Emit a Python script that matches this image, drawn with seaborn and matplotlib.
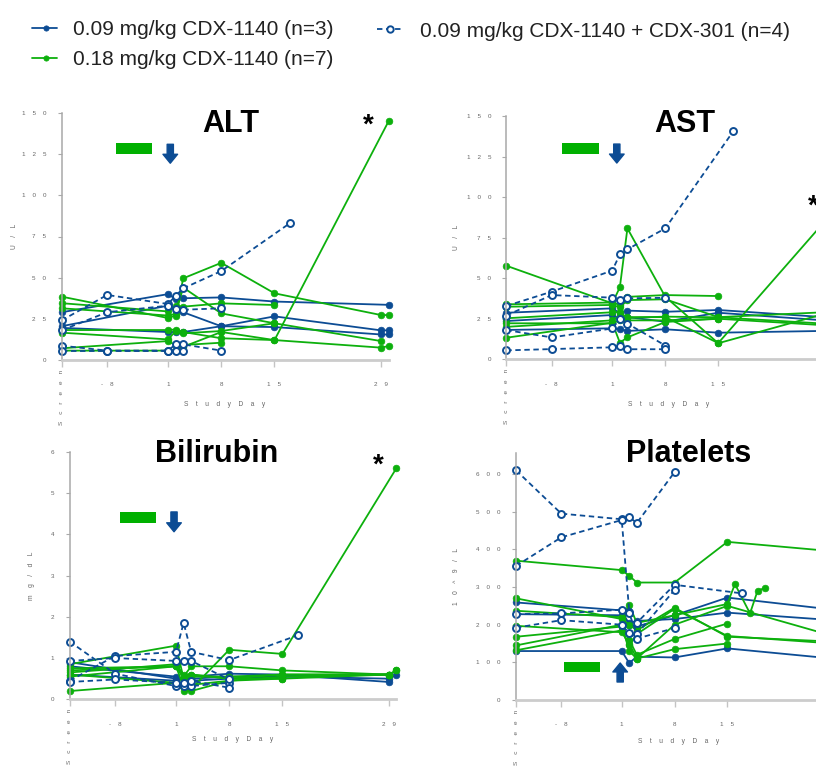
import numpy as np
import pandas as pd
import matplotlib
matplotlib.use("Agg")
import matplotlib.pyplot as plt
import matplotlib.transforms as mtransforms
from matplotlib.lines import Line2D
from matplotlib.patches import Rectangle
import seaborn as sns

N = np.nan

# ---------------- data ----------------
GROUPS = ["0.09 mg/kg CDX-1140 (n=3)",
          "0.18 mg/kg CDX-1140 (n=7)",
          "0.09 mg/kg CDX-1140 + CDX-301 (n=4)"]
PANEL_TITLES = ["ALT", "AST", "Bilirubin", "Platelets"]
Y_LABELS = ["U/L", "U/L", "mg/dL", "10^9/L"]
# study days of the visits (Screen drawn at -14, there is no day 0)
VISIT_DAYS = [-14, -8, 1, 2, 3, 8, 15, 16, 17, 18, 19, 20, 29, 30]
X_TICK_DAYS = [-14, -8, 1, 8, 15, 29]
X_TICK_LABELS = ["Screen", "-8", "1", "8", "15", "29"]
ALT_YTICKS = [0, 25, 50, 75, 100, 125, 150]
AST_YTICKS = [0, 25, 50, 75, 100, 125, 150]
BILI_YTICKS = [0, 1, 2, 3, 4, 5, 6]
PLT_YTICKS = [0, 100, 200, 300, 400, 500, 600]

#          Scr   -8    1     2     3     8     15    16  17    18   19   20   29    30
ALT_BLUE = [
    [29.0, N, 40.0, 37.0, 37.5, 38.0, 35.5, N, N, N, N, N, N, 33.5],
    [19.5, N, 17.0, 17.0, 17.0, 20.5, 26.5, N, N, N, N, N, 18.0, 18.0],
    [20.5, N, 33.0, 30.0, 29.0, 20.5, 20.0, N, N, N, N, N, 15.5, 15.5],
]
ALT_GREEN = [
    [38.5, N, 25.5, 27.0, 49.6, 59.0, 40.5, N, N, N, N, N, 27.3, 27.3],
    [34.5, N, 29.5, 32.8, 32.4, 34.4, 33.4, N, N, N, N, N, N, N],
    [31.4, N, 27.0, 28.0, 44.0, 28.3, 22.3, N, N, N, N, N, 11.5, N],
    [18.2, N, 18.2, 18.5, 17.0, 13.2, 12.1, N, N, N, N, N, 7.5, 8.5],
    [16.6, N, 12.5, 17.5, 16.2, 17.6, 22.3, N, N, N, N, N, N, N],
    [7.1, N, 11.5, 9.0, 9.1, 10.5, N, N, N, N, N, N, N, N],
    [5.7, N, 5.7, 6.0, 8.0, 17.0, 12.1, N, N, N, N, N, N, 145.0],
]
ALT_DASH = [
    [24.0, 39.5, 34.0, 39.0, 43.5, 54.0, N, N, 83.0, N, N, N, N, N],
    [18.0, 29.0, 33.0, 31.0, 30.5, 31.4, N, N, N, N, N, N, N, N],
    [8.7, 5.7, 5.7, 9.5, 9.5, 5.7, N, N, N, N, N, N, N, N],
    [5.7, 5.7, 5.7, 5.7, 5.7, N, N, N, N, N, N, N, N, N],
]

AST_BLUE = [
    [28.7, N, 31.4, 28.5, 30.0, 29.3, 30.4, N, N, N, N, N, 26.0, N],
    [23.6, N, 27.3, 25.0, 26.0, 23.2, 28.7, N, N, N, N, N, 24.0, N],
    [18.1, N, 19.1, 18.5, 17.5, 18.5, 16.4, N, N, N, N, N, 17.5, N],
]
AST_GREEN = [
    [57.7, N, 34.5, 44.4, 80.7, 38.6, 9.9, N, N, N, N, N, 28.0, N],
    [33.9, N, 35.0, 33.5, 38.5, 39.6, 39.0, N, N, N, N, N, N, N],
    [32.4, N, 33.5, 32.0, 36.5, 37.0, 26.0, N, N, N, N, N, 29.0, N],
    [25.3, N, 29.0, 29.0, 25.5, 26.3, 25.9, N, N, N, N, N, 22.0, N],
    [22.2, N, 22.2, 24.0, 24.0, 24.0, 25.0, N, N, N, N, N, 21.0, N],
    [13.3, N, 22.5, 10.3, 13.5, 23.0, 25.0, N, N, N, N, N, N, N],
    [20.0, N, 24.0, 27.0, 26.0, 26.0, 10.0, N, N, N, N, N, N, 90.0],
]
AST_DASH = [
    [32.9, 41.7, 54.7, 64.7, 67.8, 80.7, N, N, 140.7, N, N, N, N, N],
    [27.0, 39.6, 38.0, 36.6, 37.6, 37.9, N, N, N, N, N, N, N, N],
    [18.0, 13.5, 19.0, 25.0, 22.0, 8.5, N, N, N, N, N, N, N, N],
    [5.5, 6.3, 7.4, 8.2, 6.2, 6.2, N, N, N, N, N, N, N, N],
]

BILI_BLUE = [
    [0.90, N, 0.50, 0.50, 0.55, 0.62, 0.60, N, N, N, N, N, 0.42, N],
    [0.80, N, 0.55, 0.45, 0.50, 0.55, 0.55, N, N, N, N, N, 0.50, 0.60],
    [0.60, N, 0.45, 0.50, 0.45, 0.50, 0.55, N, N, N, N, N, 0.60, N],
]
BILI_GREEN = [
    [0.85, N, 1.30, 0.50, 0.60, 0.50, 0.50, N, N, N, N, N, 0.60, 0.70],
    [0.20, N, 0.40, 0.30, 0.35, 0.45, 0.55, N, N, N, N, N, 0.60, N],
    [0.75, N, 0.80, 0.55, 0.80, 0.80, 0.70, N, N, N, N, N, 0.60, 0.70],
    [0.65, N, 0.85, 0.60, 0.60, 0.50, 0.60, N, N, N, N, N, 0.60, N],
    [0.60, N, 0.40, 0.20, 0.20, 0.45, 0.50, N, N, N, N, N, N, N],
    [0.70, N, 0.80, 0.50, 0.55, 0.55, 0.60, N, N, N, N, N, 0.60, N],
    [0.55, N, 0.80, 0.30, 0.25, 1.20, 1.10, N, N, N, N, N, N, 5.60],
]
BILI_DASH = [
    [0.45, 1.05, 1.15, 1.85, 1.15, 0.95, N, N, 1.55, N, N, N, N, N],
    [1.40, 0.62, 0.32, 0.32, 0.32, 0.40, N, N, N, N, N, N, N, N],
    [0.93, 1.00, 0.93, 0.93, 0.93, 0.48, N, N, N, N, N, N, N, N],
    [0.42, 0.48, 0.40, 0.40, 0.45, 0.28, N, N, N, N, N, N, N, N],
]

PLT_BLUE = [
    [259, N, 238, 200, 195, 225, 272, N, N, N, N, N, 240, N],
    [228, N, 225, 205, 210, 215, 232, N, N, N, N, N, 212, N],
    [130, N, 130, 98, 115, 113, 137, N, N, N, N, N, 110, N],
]
PLT_GREEN = [
    [370, N, 345, 330, 312, 312, 420, N, N, N, N, N, 395, N],
    [270, N, 215, 200, 185, 245, 168, N, N, N, N, N, 155, N],
    [237, N, 220, 252, 205, 225, 255, 308, N, 230, 290, 298, N, N],
    [197, N, 180, 150, 110, 200, 250, N, N, N, N, N, 170, N],
    [168, N, 195, 160, 120, 162, 203, N, N, N, N, N, N, N],
    [145, N, 200, 130, 110, 135, 150, N, N, N, N, N, N, N],
    [132, N, 185, 145, 175, 242, 170, N, N, N, N, N, 150, N],
]
PLT_DASH = [
    [610, 495, 480, 235, 205, 306, N, N, 283, N, N, N, N, N],
    [356, 432, 478, 486, 470, 605, N, N, N, N, N, N, N, N],
    [228, 230, 240, 230, 175, 292, N, N, N, N, N, N, N, N],
    [192, 212, 200, 177, 163, 191, N, N, N, N, N, N, N, N],
]

PANEL_DATA = {
    "ALT": (ALT_BLUE, ALT_GREEN, ALT_DASH),
    "AST": (AST_BLUE, AST_GREEN, AST_DASH),
    "Bilirubin": (BILI_BLUE, BILI_GREEN, BILI_DASH),
    "Platelets": (PLT_BLUE, PLT_GREEN, PLT_DASH),
}


def day_to_x(d):
    # no day 0 in the study calendar
    return d if d < 0 else d - 1


rows = []
for panel, arrays in PANEL_DATA.items():
    for g, arr in zip(GROUPS, arrays):
        for i, vals in enumerate(arr):
            for d, v in zip(VISIT_DAYS, vals):
                if not np.isnan(v):
                    rows.append(dict(panel=panel, group=g, subject=f"{g}#{i}",
                                     x=day_to_x(d), value=v))
df = pd.DataFrame(rows)

# ---------------- style ----------------
BLUE = "#0c4c94"
GREEN = "#0db00d"
BAR_GREEN = "#00b000"
TXT = "#222222"
TICK_TXT = "#666666"

sns.set_theme(style="ticks")
plt.rcParams["font.family"] = ["Liberation Sans", "DejaVu Sans"]

W, H = 816, 766
fig = plt.figure(figsize=(W / 100, H / 100), dpi=100)


def px_rect(x0, y_top, x1, y_bot):
    return [x0 / W, 1 - y_bot / H, (x1 - x0) / W, (y_bot - y_top) / H]


def spaced(s, n=4):
    return (" " * n).join([c for c in s if c != " "])


XLIM = (day_to_x(-14), 29)
panel_cfg = {
    "ALT": dict(rect=px_rect(61.5, 113, 388.6, 360), ylim=(0, 150), yticks=ALT_YTICKS,
                ylab_x=-0.133, xlab_y=-0.166),
    "AST": dict(rect=px_rect(506.3, 116, 831.8, 359.3), ylim=(0, 150), yticks=AST_YTICKS,
                ylab_x=-0.142, xlab_y=-0.171),
    "Bilirubin": dict(rect=px_rect(69.6, 451.7, 396.4, 699.3), ylim=(0, 6), yticks=BILI_YTICKS,
                      ylab_x=-0.106, xlab_y=-0.15),
    "Platelets": dict(rect=px_rect(516, 453, 840.6, 700), ylim=(0, 656), yticks=PLT_YTICKS,
                      ylab_x=-0.173, xlab_y=-0.154),
}

palette = {GROUPS[0]: BLUE, GROUPS[1]: GREEN, GROUPS[2]: BLUE}
dashes = {GROUPS[0]: "", GROUPS[1]: "", GROUPS[2]: (3, 2)}
markers = {GROUPS[0]: "o", GROUPS[1]: "o", GROUPS[2]: "o"}

axes = {}
for panel, ylab in zip(PANEL_TITLES, Y_LABELS):
    cfg = panel_cfg[panel]
    ax = fig.add_axes(cfg["rect"])
    axes[panel] = ax
    sub = df[df.panel == panel]
    sns.lineplot(data=sub, x="x", y="value", hue="group", style="group",
                 units="subject", estimator=None, hue_order=GROUPS, style_order=GROUPS,
                 palette=palette, dashes=dashes, markers=markers, sort=True,
                 legend=False, ax=ax, lw=1.3, ms=4.8, clip_on=False)
    for ln in ax.lines:
        c = ln.get_color()
        ln.set_markeredgecolor(c)
        if ln.get_linestyle() not in ("-", "solid"):
            ln.set_markerfacecolor("white")
            ln.set_markeredgewidth(1.4)
            ln.set_markersize(5.0)
        else:
            ln.set_markerfacecolor(c)
            ln.set_markeredgewidth(0.5)
    ax.set_xlim(*XLIM)
    ax.set_ylim(*cfg["ylim"])
    ax.set_yticks(cfg["yticks"])
    ax.set_yticklabels([spaced(str(v)) for v in cfg["yticks"]])
    xt = [day_to_x(d) for d in X_TICK_DAYS]
    ax.set_xticks(xt)
    ax.set_xticklabels(["" if l == "Screen" else spaced(l) for l in X_TICK_LABELS])
    # rotated "Screen" label
    tr = mtransforms.offset_copy(ax.get_xaxis_transform(), fig=fig, x=0, y=-10, units="dots")
    ax.text(day_to_x(X_TICK_DAYS[0]), 0, spaced("Screen", 4), rotation=90, ha="center",
            va="top", fontsize=4.6, color=TICK_TXT, transform=tr)
    ax.tick_params(axis="x", length=5, width=1, color="#c4c4c4", pad=11,
                   labelsize=4.5, labelcolor=TICK_TXT)
    ax.tick_params(axis="y", length=3, width=0.8, color="#aaaaaa", pad=8,
                   labelsize=4.5, labelcolor=TICK_TXT)
    ax.set_xlabel(spaced("Study Day"), fontsize=4.8, color=TICK_TXT)
    ax.xaxis.set_label_coords(0.5, cfg["xlab_y"])
    ax.set_ylabel(spaced(ylab), fontsize=4.8, color=TICK_TXT)
    ax.yaxis.set_label_coords(cfg["ylab_x"], 0.5)
    for s in ("top", "right"):
        ax.spines[s].set_visible(False)
    ax.spines["left"].set_color("#a8a8a8")
    ax.spines["left"].set_linewidth(1.1)
    ax.spines["bottom"].set_color("#cccccc")
    ax.spines["bottom"].set_linewidth(2)
    ax.set_facecolor("white")

# dosing bars (green) and CDX-1140 arrows (blue)
bar_arrow = {
    "ALT": dict(bar=(-6.8, 125.2, 4.7, 6.6), arrow=(0.3, 131.0, 119.5)),
    "AST": dict(bar=(-6.6, 126.6, 4.85, 6.8), arrow=(0.6, 132.7, 121.0)),
    "Bilirubin": dict(bar=(-7.4, 4.27, 4.8, 0.27), arrow=(-0.26, 4.54, 4.06)),
    "Platelets": dict(bar=(-7.6, 74.4, 4.7, 26.6), arrow=(-0.2, 47.8, 98.3)),
}
for panel, ba in bar_arrow.items():
    ax = axes[panel]
    bx, by, bw, bh = ba["bar"]
    ax.add_patch(Rectangle((bx, by), bw, bh, facecolor=BAR_GREEN, edgecolor="none",
                           zorder=1, clip_on=False))
    axx, y0, y1 = ba["arrow"]
    ax.annotate("", xy=(axx, y1), xytext=(axx, y0),
                arrowprops=dict(arrowstyle="simple,head_length=0.46,head_width=0.75,tail_width=0.32",
                                color=BLUE, mutation_scale=14, shrinkA=0, shrinkB=0),
                annotation_clip=False)

# panel titles
title_pos = {"ALT": (230.5, 132), "AST": (684.7, 132), "Bilirubin": (216.5, 462),
             "Platelets": (688.5, 462)}
for t, (tx, ty) in title_pos.items():
    fig.text(tx / W, 1 - ty / H, t, ha="center", va="baseline", fontsize=22,
             fontweight="bold", color="black")
for (sx, sy) in [(368, 132.5), (813, 213.5), (378, 472.5)]:
    fig.text(sx / W, 1 - sy / H, "*", ha="center", va="baseline", fontsize=20,
             fontweight="bold", color="black")

# legend (drawn manually in figure pixels)
def leg_entry(x0, x1, xm, y, color, dashed, text_x, text_base, label):
    yy = 1 - y / H
    ln = Line2D([x0 / W, xm / W, x1 / W], [yy, yy, yy], transform=fig.transFigure,
                color=color, lw=1.3, linestyle=(0, (3, 2)) if dashed else "-",
                marker="o", markevery=[1], ms=4.6 if dashed else 3.8,
                mfc="white" if dashed else color, mec=color, mew=1.4 if dashed else 0.5)
    fig.add_artist(ln)
    fig.text(text_x / W, 1 - text_base / H, label, ha="left", va="baseline",
             fontsize=15, color=TXT)


leg_entry(32, 57, 46, 28, BLUE, False, 73, 35, GROUPS[0])
leg_entry(32, 57, 46, 58, GREEN, False, 73, 65, GROUPS[1])
leg_entry(377, 403, 390, 29, BLUE, True, 420, 36.7, GROUPS[2])

fig.savefig("out.png", dpi=100, facecolor="white")
